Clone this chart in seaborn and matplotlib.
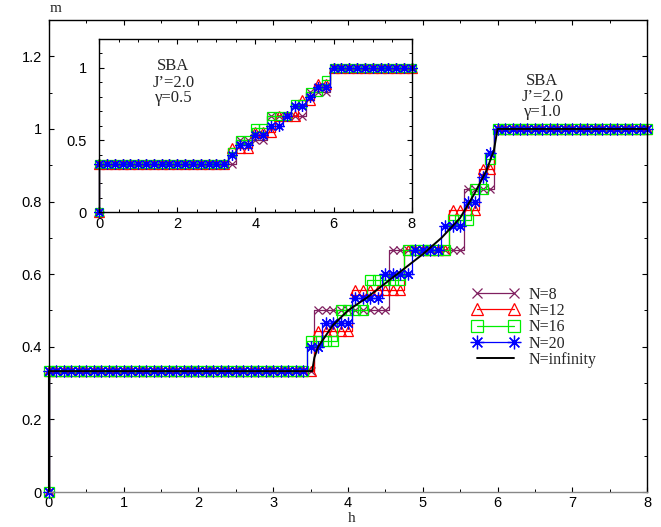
import numpy as np
import pandas as pd
import matplotlib
matplotlib.use("Agg")
import matplotlib.pyplot as plt
import seaborn as sns

# ── Data ───────────────────────────────────────────────────
# field grids (main panel gamma=1.0, inset gamma=0.5); h=0 appears twice
# (m=0 and the jump straight up to the 1/3 plateau)
h_main = np.concatenate([[0.0], np.round(np.arange(0, 8.001, 0.1), 2)])
h_ins = np.concatenate([[0.0], np.round(np.arange(0, 8.001, 0.2), 2)])

# plateau levels and number of grid points on each plateau, main panel
n8_lv = [0, 1/3, 1/2, 2/3, 5/6, 1]
n8_ct = [1, 36, 10, 10, 4, 21]
n12_lv = [0, 1/3, 4/9, 5/9, 2/3, 7/9, 8/9, 1]
n12_ct = [1, 36, 5, 7, 6, 4, 2, 21]
n16_lv = [0, 1/3, 5/12, 1/2, 7/12, 2/3, 3/4, 5/6, 11/12, 1]
n16_ct = [1, 35, 4, 4, 5, 6, 3, 2, 1, 21]
n20_lv = [0, 1/3, 6/15, 7/15, 8/15, 9/15, 10/15, 11/15, 12/15, 13/15, 14/15, 1]
n20_ct = [1, 35, 2, 4, 4, 4, 4, 3, 2, 1, 1, 21]

# N = infinity curve
h_inf = [0, 0, 3.52, 3.55, 3.6, 3.7, 3.8, 4.0, 4.25, 4.5, 4.75, 5.0, 5.25, 5.5, 5.7, 5.85, 5.95, 6.0, 8.0]
m_inf = [0, 0.333, 0.333, 0.37, 0.40, 0.43, 0.46, 0.50, 0.535, 0.575, 0.615, 0.655, 0.70, 0.755, 0.825, 0.885, 0.94, 1.0, 1.0]

# inset plateaus
i8_lv = [0, 1/3, 1/2, 2/3, 5/6, 1]
i8_ct = [1, 18, 4, 5, 3, 11]
i12_lv = [0, 1/3, 4/9, 5/9, 2/3, 7/9, 8/9, 1]
i12_ct = [1, 17, 3, 3, 3, 2, 2, 11]
i16_lv = [0, 1/3, 5/12, 1/2, 7/12, 2/3, 3/4, 5/6, 11/12, 1]
i16_ct = [1, 17, 1, 2, 2, 3, 2, 2, 1, 11]
i20_lv = [0, 1/3, 6/15, 7/15, 8/15, 9/15, 10/15, 11/15, 12/15, 13/15, 1]
i20_ct = [1, 17, 1, 2, 2, 2, 1, 2, 1, 2, 11]

labels = ["N=8", "N=12", "N=16", "N=20", "N=infinity"]
xticks_main = [0, 1, 2, 3, 4, 5, 6, 7, 8]
yticks_main = [0, 0.2, 0.4, 0.6, 0.8, 1.0, 1.2]
ylabels_main = ["0", "0.2", "0.4", "0.6", "0.8", "1", "1.2"]
xticks_ins = [0, 2, 4, 6, 8]
yticks_ins = [0, 0.5, 1.0]
ylabels_ins = ["0", "0.5", "1"]

# ── Style ──────────────────────────────────────────────────
sns.set_theme(style="ticks")
plt.rcParams.update({
    "font.family": ["Liberation Sans", "DejaVu Sans"],
    "xtick.direction": "in", "ytick.direction": "in",
    "xtick.top": True, "ytick.right": True,
    "xtick.major.size": 3.5, "ytick.major.size": 3.5,
    "xtick.minor.size": 2, "ytick.minor.size": 2,
    "xtick.major.width": 0.8, "ytick.major.width": 0.8,
    "xtick.minor.width": 0.7, "ytick.minor.width": 0.7,
    "xtick.major.pad": 3, "ytick.major.pad": 5,
    "xtick.labelsize": 10.5, "ytick.labelsize": 10.5,
    "xtick.color": "black", "ytick.color": "black",
    "axes.edgecolor": "black", "axes.linewidth": 1.0,
})
SERIF = ["Liberation Serif", "DejaVu Serif"]

styles = [
    ("#802060", "x", 6),
    ("#ff0000", "^", 7.5),
    ("#00ee00", "s", 7),
    ("#0000ff", (8, 2, 0), 8.5),
]


def draw(ax, h, lv, ct, col, mk, ms, lab=None):
    df = pd.DataFrame({"h": h, "m": np.repeat(lv, ct)})
    sns.lineplot(data=df, x="h", y="m", ax=ax, color=col, marker=mk,
                 markersize=ms, markerfacecolor="none", markeredgecolor=col,
                 markeredgewidth=0.9, linewidth=0.9, drawstyle="steps-mid",
                 estimator=None, sort=False, label=lab, clip_on=False)


fig = plt.figure(figsize=(6.61, 5.27), dpi=100)
ax = fig.add_axes([0.074, 0.0664, 0.905, 0.8956])

main_sets = [(n8_lv, n8_ct), (n12_lv, n12_ct), (n16_lv, n16_ct), (n20_lv, n20_ct)]
for (lv, ct), (col, mk, ms), lab in zip(main_sets, styles, labels):
    draw(ax, h_main, lv, ct, col, mk, ms, lab)
sns.lineplot(x=h_inf, y=m_inf, ax=ax, color="black", linewidth=1.4,
             estimator=None, sort=False, label=labels[4], clip_on=False)

ax.set_xlim(0, 8)
ax.set_ylim(0, 1.3)
ax.set_xticks(xticks_main)
ax.set_yticks(yticks_main, ylabels_main)
ax.set_xticks(np.arange(0.5, 8, 1), minor=True)
ax.set_yticks(np.arange(0.1, 1.3, 0.2), minor=True)
ax.spines["bottom"].set_color("#888888")
ax.set_xlabel("")
ax.set_ylabel("")

for y, t in zip([1.132, 1.088, 1.047], ["SBA", "J’=2.0", "γ=1.0"]):
    ax.text(6.6, y, t, ha="center", va="center", family=SERIF, fontsize=12)

handles = ax.get_lines()[:5]
ax.legend(handles, labels, loc="upper left", bbox_to_anchor=(0.707, 0.435),
          frameon=False, numpoints=2, handlelength=2.95, handletextpad=0.6,
          labelspacing=0.02, borderpad=0, borderaxespad=0, markerscale=1.15,
          prop={"family": SERIF, "size": 11.5})

fig.text(56 / 661, 1 - 9 / 527, "m", ha="center", va="center", family=SERIF, fontsize=11)
fig.text(352 / 661, 1 - 519 / 527, "h", ha="center", va="center", family=SERIF, fontsize=11)

# ── Inset ──────────────────────────────────────────────────
axi = fig.add_axes([0.150, 0.597, 0.473, 0.329])
ins_sets = [(i8_lv, i8_ct), (i12_lv, i12_ct), (i16_lv, i16_ct), (i20_lv, i20_ct)]
for (lv, ct), (col, mk, ms) in zip(ins_sets, styles):
    draw(axi, h_ins, lv, ct, col, mk, ms * 0.9)
axi.set_xlim(0, 8)
axi.set_ylim(0, 1.2)
axi.set_xticks(xticks_ins)
axi.set_yticks(yticks_ins, ylabels_ins)
axi.set_xticks(np.arange(0.5, 8, 0.5), minor=True)
axi.set_yticks(np.arange(0.1, 1.2, 0.1), minor=True)
axi.tick_params(axis="y", which="major", pad=9)
axi.set_xlabel("")
axi.set_ylabel("")
for y, t in zip([1.011, 0.896, 0.792], ["SBA", "J’=2.0", "γ=0.5"]):
    axi.text(1.9, y, t, ha="center", va="center", family=SERIF, fontsize=12)

fig.savefig("out.png", dpi=100)
